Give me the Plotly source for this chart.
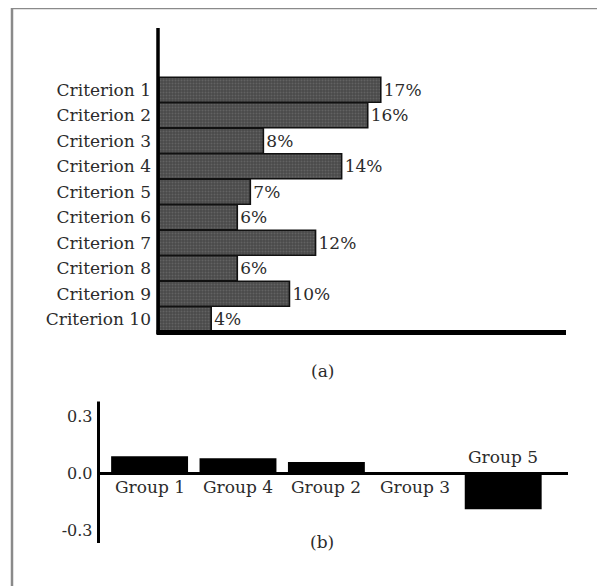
import plotly.graph_objects as go

# ---- data ----
criteria = ["Criterion 1", "Criterion 2", "Criterion 3", "Criterion 4", "Criterion 5",
            "Criterion 6", "Criterion 7", "Criterion 8", "Criterion 9", "Criterion 10"]
criteria_pct = [17, 16, 8, 14, 7, 6, 12, 6, 10, 4]

groups = ["Group 1", "Group 4", "Group 2", "Group 3", "Group 5"]
group_vals = [0.09, 0.08, 0.06, 0.0, -0.19]
group_ticks = [-0.3, 0.0, 0.3]
group_ticktext = ["-0.3", "0.0", "0.3"]

W, H = 605, 586
OFF = 8  # page body margin of the browser
FONT = "DejaVu Serif"
TXT = "#2b2b2b"


def px(x):
    return (x - OFF) / W


def py(y):
    return 1 - (y - OFF) / H


# plot areas (screen pixels of the reference)
A_X0, A_X1, A_Y0, A_Y1 = 159, 566, 28, 332
B_X0, B_X1, B_Y0, B_Y1 = 98.5, 568, 401.5, 543

fig = go.Figure()

fig.add_trace(go.Bar(
    y=criteria, x=criteria_pct, orientation="h",
    text=[f"{v}%" for v in criteria_pct], textposition="outside",
    textfont=dict(family=FONT, size=17, color=TXT),
    cliponaxis=False, width=0.98,
    marker=dict(color="#505050",
                line=dict(color="#111111", width=1.6),
                pattern=dict(shape=".", bgcolor="#4a4a4a", fgcolor="#7a7a7a",
                             size=3, solidity=0.35)),
    xaxis="x", yaxis="y", showlegend=False, hoverinfo="skip",
))

fig.add_trace(go.Bar(
    x=groups, y=group_vals, width=0.87,
    marker=dict(color="#000000", line=dict(width=0)),
    xaxis="x2", yaxis="y2", showlegend=False, hoverinfo="skip",
    cliponaxis=False,
))

shapes = []
annotations = []

# axis lines for chart (a)
shapes.append(dict(type="line", xref="paper", yref="paper",
                   x0=px(A_X0 - 1), x1=px(A_X0 - 1), y0=py(A_Y0), y1=py(A_Y1 + 2),
                   line=dict(color="#000", width=3.5)))
shapes.append(dict(type="line", xref="paper", yref="paper",
                   x0=px(A_X0 - 2.5), x1=px(A_X1), y0=py(A_Y1 + 0.5), y1=py(A_Y1 + 0.5),
                   line=dict(color="#000", width=5)))

# axis lines for chart (b)
shapes.append(dict(type="line", xref="paper", yref="paper",
                   x0=px(B_X0), x1=px(B_X0), y0=py(B_Y0), y1=py(B_Y1),
                   line=dict(color="#000", width=3)))
shapes.append(dict(type="line", xref="paper", yref="y2",
                   x0=px(B_X0), x1=px(B_X1), y0=0, y1=0,
                   line=dict(color="#000", width=3)))

# outer frame (left and top edges)
shapes.append(dict(type="line", xref="paper", yref="paper",
                   x0=px(12), x1=px(12), y0=py(H + 20), y1=py(8),
                   line=dict(color="#8a8a8a", width=2.5)))
shapes.append(dict(type="line", xref="paper", yref="paper",
                   x0=px(11), x1=px(W + 20), y0=py(8), y1=py(8),
                   line=dict(color="#8a8a8a", width=2.5)))

# group labels: below the zero line for non-negative values, above for negative
for g, v in zip(groups, group_vals):
    annotations.append(dict(x=g, y=0, xref="x2", yref="y2", text=g, showarrow=False,
                            yanchor="middle", yshift=(-14 if v >= 0 else 16),
                            font=dict(family=FONT, size=17, color=TXT)))

annotations.append(dict(x=px(322), y=py(370.5), xref="paper", yref="paper", text="(a)",
                        showarrow=False, font=dict(family=FONT, size=17, color=TXT)))
annotations.append(dict(x=px(322), y=py(554), xref="paper", yref="paper", text="(b)",
                        showarrow=False, font=dict(family=FONT, size=17, color=TXT)))

fig.update_layout(
    width=W, height=H, autosize=False,
    margin=dict(l=0, r=0, t=0, b=0),
    paper_bgcolor="white", plot_bgcolor="white",
    xaxis=dict(domain=[px(A_X0), px(A_X1)], range=[0, 31.2], anchor="y",
               showgrid=False, zeroline=False, showline=False, showticklabels=False,
               ticks=""),
    yaxis=dict(domain=[py(A_Y1), py(A_Y0)], anchor="x", type="category",
               range=[9.5, -2.42], showgrid=False, zeroline=False, showline=False,
               ticks="", ticklabelstandoff=7,
               tickfont=dict(family=FONT, size=17, color=TXT)),
    xaxis2=dict(domain=[px(B_X0), px(B_X1)], range=[-0.578, 4.733], anchor="y2",
                type="category",
                showgrid=False, zeroline=False, showline=False, showticklabels=False,
                ticks=""),
    yaxis2=dict(domain=[py(B_Y1), py(B_Y0)], anchor="x2", range=[-0.368, 0.38],
                tickvals=group_ticks, ticktext=group_ticktext,
                showgrid=False, zeroline=False, showline=False, ticks="",
                ticklabelstandoff=5,
                tickfont=dict(family=FONT, size=16, color=TXT)),
    shapes=shapes, annotations=annotations,
)

fig.write_html("out.html")
